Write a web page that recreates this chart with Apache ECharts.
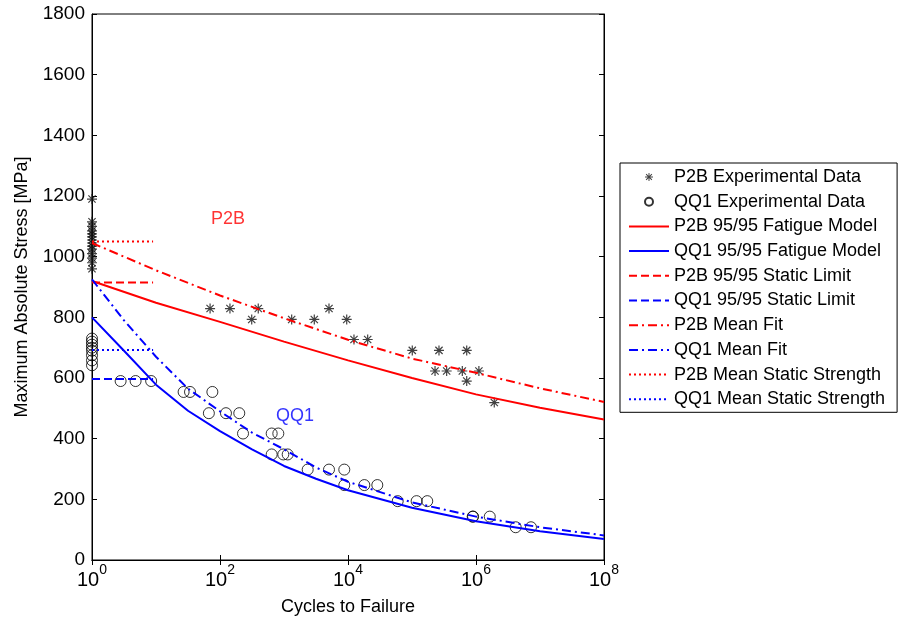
<!DOCTYPE html>
<html><head><meta charset="utf-8">
<script src="https://cdn.jsdelivr.net/npm/echarts@6/dist/echarts.min.js"></script>
<style>html,body{margin:0;padding:0;background:#fff}#c{width:898px;height:621px}</style>
</head><body><div id="c"></div>
<script>
// ---- data ----
const xTickExponents = [0, 2, 4, 6, 8];
const yTickValues = [0, 200, 400, 600, 800, 1000, 1200, 1400, 1600, 1800];

const p2bDataCycles = [1,1,1,1,1,1,1,1,1,1,1,1,1,1,
  70,143,396,313,1318,2974,5047,9550,12400,20300,101000,264000,716000,229000,348000,611000,1110000,716000,1930000];
const p2bDataStress = [1190,1115,1100,1085,1075,1065,1055,1045,1035,1025,1010,995,980,960,
  829,829,829,793,793,793,829,793,727,727,691,691,691,623,623,623,623,590,519];

const qq1DataCycles = [1,1,1,1,1,1,1,1,
  2.8,4.8,8.4,27,34,76,67,124,200,229,642,815,642,975,1142,2345,5047,8750,8750,18000,28700,59800,118000,173000,888000,900000,1640000,4170000,7230000];
const qq1DataStress = [730,720,710,700,690,675,658,642,
  590,590,590,554,554,554,484,484,484,417,417,417,348,348,348,298,298,298,247,247,247,194,194,194,143,143,143,108,108];

const p2bFitCycles = [1,10,100,1e3,1e4,1e5,1e6,1e7,1e8];
const p2bModelStress = [920,848,785,720,658,600,546,502,463];
const p2bMeanStress  = [1045,955,872,797,726,664,617,566,521];

const qq1FitCycles = [1,3.162,10,31.62,100,316.2,1000,3162,1e4,1e5,1e6,1e7,1e8];
const qq1ModelStress = [800,690,578,492,425,365,310,268,230,172,128,95,69];
const qq1MeanStress  = [925,790,670,565,490,420,365,305,258,190,143,108,81];

const staticCycles = [1, 9];
const p2bStaticLimit = [915, 915];
const qq1StaticLimit = [597, 597];
const p2bMeanStatic = [1050, 1050];
const qq1MeanStatic = [692, 692];

const noteCycles = [133, 1490];
const noteStress = [1124, 474];
const noteText = ['P2B', 'QQ1'];
const noteColors = ['#ff0000', '#0000ff'];

const legendNames = ['P2B Experimental Data', 'QQ1 Experimental Data', 'P2B 95/95 Fatigue Model', 'QQ1 95/95 Fatigue Model',
  'P2B 95/95 Static Limit', 'QQ1 95/95 Static Limit', 'P2B Mean Fit', 'QQ1 Mean Fit',
  'P2B Mean Static Strength', 'QQ1 Mean Static Strength'];

// ---- helpers ----
const zip = (a, b) => a.map((v, i) => [v, b[i]]);
const FONT = 'Liberation Sans, Arial, sans-serif';
const RED = '#ff0000', BLUE = '#0000ff';
const STAR = 'path://M8.8,0 L11.2,0 L11.2,20 L8.8,20 Z M0,8.8 L20,8.8 L20,11.2 L0,11.2 Z M3.6,1.9 L18.1,16.4 L16.4,18.1 L1.9,3.6 Z M16.4,1.9 L18.1,3.6 L3.6,18.1 L1.9,16.4 Z';

function lineSeries(name, x, y, color, type) {
  return {
    name, type: 'line', data: zip(x, y), symbol: 'none', smooth: false,
    lineStyle: { color, width: 2, type }, itemStyle: { color }, z: 3, silent: true
  };
}

const chart = echarts.init(document.getElementById('c'), null, { renderer: 'canvas' });
const axisCommon = {
  axisLine: { show: true, lineStyle: { color: '#000', width: 1 } },
  axisTick: { show: true, inside: true, length: 5, lineStyle: { color: '#000' } },
  splitLine: { show: false }, minorTick: { show: false }
};
chart.setOption({
  animation: false,
  backgroundColor: '#fff',
  textStyle: { fontFamily: FONT },
  grid: { left: 92, right: 294, top: 14, bottom: 61, show: true, borderColor: '#000', borderWidth: 1, backgroundColor: '#fff' },
  xAxis: [
    Object.assign({
      type: 'log', logBase: 10, min: 1, max: 1e8, interval: 2, splitNumber: 4, position: 'bottom',
      name: 'Cycles to Failure', nameLocation: 'middle', nameGap: 38,
      nameTextStyle: { fontSize: 18, color: '#000', fontFamily: FONT },
      axisLabel: {
        margin: 3, color: '#000',
        formatter: v => {
          const e = Math.round(Math.log10(v));
          return xTickExponents.indexOf(e) >= 0 ? '{b|10}{e|' + e + '}' : '';
        },
        rich: {
          b: { fontSize: 20, fontFamily: FONT, color: '#000', verticalAlign: 'bottom', padding: [7, 0, 0, 0] },
          e: { fontSize: 14, fontFamily: FONT, color: '#000', verticalAlign: 'top' }
        }
      }
    }, axisCommon),
    Object.assign({
      type: 'log', logBase: 10, min: 1, max: 1e8, interval: 2, splitNumber: 4, position: 'top',
      axisLabel: { show: false }
    }, axisCommon)
  ],
  yAxis: [
    Object.assign({
      type: 'value', min: 0, max: 1800, interval: 200, position: 'left',
      name: 'Maximum Absolute Stress [MPa]', nameLocation: 'middle', nameGap: 61,
      nameTextStyle: { fontSize: 18, color: '#000', fontFamily: FONT },
      axisLabel: { fontSize: 19, color: '#000', margin: 7, fontFamily: FONT,
        formatter: v => (yTickValues.indexOf(v) >= 0 ? String(v) : '') }
    }, axisCommon),
    Object.assign({
      type: 'value', min: 0, max: 1800, interval: 200, position: 'right',
      axisLabel: { show: false }
    }, axisCommon)
  ],
  legend: {
    orient: 'vertical', left: 620, top: 163, width: 300,
    backgroundColor: '#fff', borderColor: '#000', borderWidth: 1,
    padding: [4, 12, 3, 8], itemGap: 4.7, itemWidth: 40, itemHeight: 8,
    textStyle: { fontSize: 18, color: '#000', fontFamily: FONT, lineHeight: 20 },
    data: legendNames.map((n, i) => i < 2 ? { name: n }
      : { name: n, itemStyle: { opacity: 0, color: 'rgba(0,0,0,0)', borderWidth: 0 } })
  },
  series: [
    { name: legendNames[0], type: 'scatter', data: zip(p2bDataCycles, p2bDataStress),
      symbol: STAR, symbolSize: 10, itemStyle: { color: '#111' }, z: 2, silent: true },
    { name: legendNames[1], type: 'scatter', data: zip(qq1DataCycles, qq1DataStress),
      symbol: 'circle', symbolSize: 11,
      itemStyle: { color: 'rgba(255,255,255,0)', borderColor: '#000', borderWidth: 1 }, z: 2, silent: true },
    lineSeries(legendNames[2], p2bFitCycles, p2bModelStress, RED, 'solid'),
    lineSeries(legendNames[3], qq1FitCycles, qq1ModelStress, BLUE, 'solid'),
    lineSeries(legendNames[4], staticCycles, p2bStaticLimit, RED, [8, 4]),
    lineSeries(legendNames[5], staticCycles, qq1StaticLimit, BLUE, [8, 4]),
    lineSeries(legendNames[6], p2bFitCycles, p2bMeanStress, RED, [9, 4, 2, 4]),
    lineSeries(legendNames[7], qq1FitCycles, qq1MeanStress, BLUE, [9, 4, 2, 4]),
    lineSeries(legendNames[8], staticCycles, p2bMeanStatic, RED, [2, 3]),
    lineSeries(legendNames[9], staticCycles, qq1MeanStatic, BLUE, [2, 3]),
    { name: 'notes', type: 'scatter', symbolSize: 0, silent: true, z: 4,
      data: noteText.map((t, i) => ({ name: t, value: [noteCycles[i], noteStress[i]],
        label: { show: true, position: 'inside', formatter: '{b}', fontSize: 18, fontFamily: FONT, color: noteColors[i] } })) }
  ]
});
</script></body></html>
